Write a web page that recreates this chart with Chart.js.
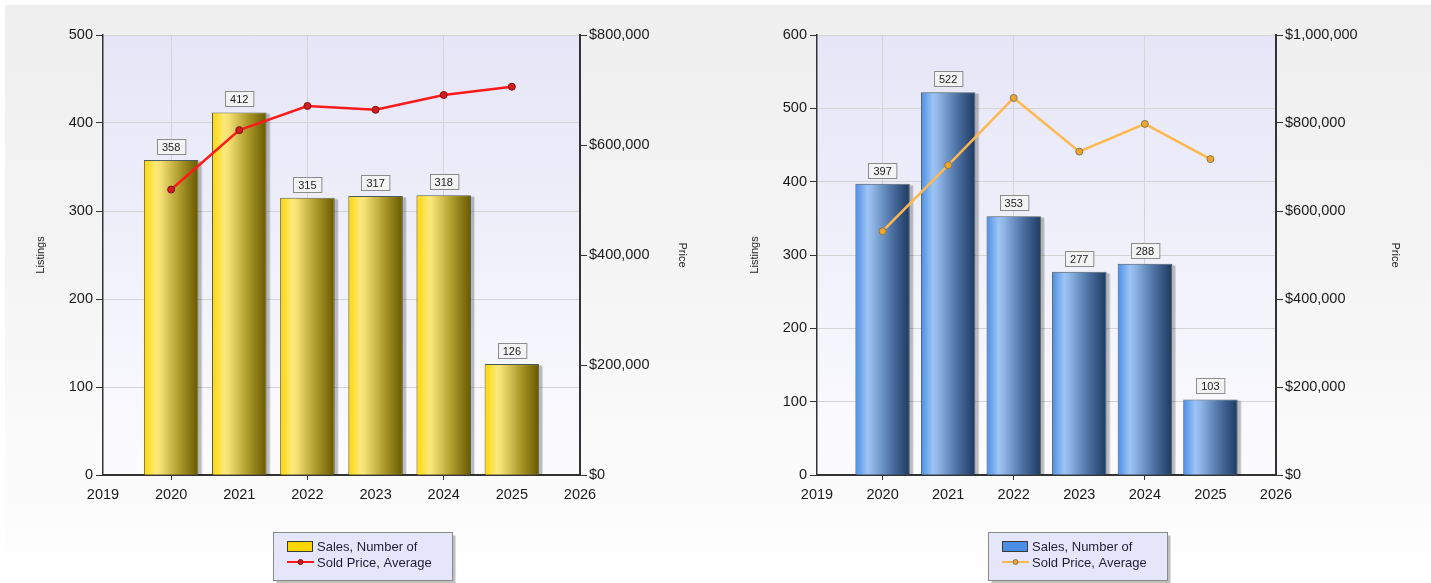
<!DOCTYPE html>
<html>
<head>
<meta charset="utf-8">
<script src="https://cdn.jsdelivr.net/npm/chart.js@4.4.1/dist/chart.umd.min.js"></script>
<style>
  html, body { margin: 0; padding: 0; }
  body {
    width: 1431px; height: 583px; overflow: hidden; position: relative;
    background: linear-gradient(to bottom, #ffffff 0px, #ffffff 5px, #efefef 5px, #f4f4f4 250px, #fdfdfd 540px, #ffffff 583px);
  }
  #edge { position: absolute; left: 0; top: 0; width: 5px; height: 583px; background: #ffffff; }
  canvas { position: absolute; top: 0; }
  #c1 { left: 0; }
  #c2 { left: 715px; }
</style>
</head>
<body>
<div id="edge"></div>
<canvas id="c1" width="715" height="583"></canvas>
<canvas id="c2" width="716" height="583"></canvas>
<script>
// ---- data ----
const years = [2020, 2021, 2022, 2023, 2024, 2025];
const xTickYears = [2019, 2020, 2021, 2022, 2023, 2024, 2025, 2026];
const gridYears = [2020, 2022, 2024];

const salesLeft = [358, 412, 315, 317, 318, 126];
const priceLeft = [519000, 627000, 671000, 664000, 691000, 706000];
const listingTicksLeft = [0, 100, 200, 300, 400, 500];
const priceTicksLeft = [0, 200000, 400000, 600000, 800000];

const salesRight = [397, 522, 353, 277, 288, 103];
const priceRight = [554000, 704000, 857000, 735000, 798000, 718000];
const listingTicksRight = [0, 100, 200, 300, 400, 500, 600];
const priceTicksRight = [0, 200000, 400000, 600000, 800000, 1000000];

const barLabel = 'Sales, Number of';
const lineLabel = 'Sold Price, Average';
const leftAxisTitle = 'Listings';
const rightAxisTitle = 'Price';

// ---- helpers ----
const FONT = "'Liberation Sans', Arial, sans-serif";
const fmtMoney = v => '$' + Math.round(v).toLocaleString('en-US');

const plotBg = {
  id: 'plotBg',
  beforeDraw(chart) {
    const { ctx, chartArea: a } = chart;
    if (!a) return;
    const g = ctx.createLinearGradient(0, a.top, 0, a.bottom);
    g.addColorStop(0, '#e5e5f7');
    g.addColorStop(1, '#fcfcff');
    ctx.save();
    ctx.fillStyle = g;
    ctx.fillRect(a.left, a.top, a.right - a.left, a.bottom - a.top);
    ctx.restore();
  }
};

// drop shadow behind, cylinder shading over, each bar laid out by the library
const barStyle = {
  id: 'barStyle',
  beforeDatasetDraw(chart, args) {
    if (chart.data.datasets[args.index].type !== 'bar') return;
    const ctx = chart.ctx;
    const meta = chart.getDatasetMeta(args.index);
    ctx.save();
    meta.data.forEach(el => {
      const left = el.x - el.width / 2;
      const h = el.base - el.y;
      ctx.fillStyle = 'rgba(0,0,0,0.10)';
      ctx.fillRect(left + 2, el.y + 2, el.width + 2, h - 2);
      ctx.fillStyle = 'rgba(0,0,0,0.16)';
      ctx.fillRect(left + 1, el.y + 1, el.width + 2, h - 1);
    });
    ctx.restore();
  },
  afterDatasetDraw(chart, args, opts) {
    const ds = chart.data.datasets[args.index];
    if (ds.type !== 'bar') return;
    const ctx = chart.ctx;
    const meta = chart.getDatasetMeta(args.index);
    const stops = opts.stops || [];
    ctx.save();
    meta.data.forEach(el => {
      const left = el.x - el.width / 2;
      const g = ctx.createLinearGradient(left, 0, left + el.width, 0);
      stops.forEach(s => g.addColorStop(s[0], s[1]));
      ctx.fillStyle = g;
      ctx.fillRect(left + 1, el.y + 1, el.width - 2, el.base - el.y - 1);
    });
    ctx.restore();
  }
};

const valueBoxes = {
  id: 'valueBoxes',
  afterDatasetsDraw(chart) {
    const ctx = chart.ctx;
    chart.data.datasets.forEach((ds, i) => {
      if (ds.type !== 'bar') return;
      const meta = chart.getDatasetMeta(i);
      meta.data.forEach((el, j) => {
        const txt = String(ds.data[j].y);
        ctx.save();
        ctx.font = '11px ' + FONT;
        const w = Math.max(28, ctx.measureText(txt).width + 10);
        const h = 15;
        const x = Math.round(el.x - w / 2) + 0.5;
        const y = Math.round(el.y - 6 - h) + 0.5;
        ctx.fillStyle = '#f3f3f3';
        ctx.fillRect(x, y, w, h);
        ctx.strokeStyle = '#8c8c8c';
        ctx.lineWidth = 1;
        ctx.strokeRect(x, y, w, h);
        ctx.fillStyle = '#222';
        ctx.textAlign = 'center';
        ctx.textBaseline = 'middle';
        ctx.fillText(txt, el.x, y + h / 2 + 0.5);
        ctx.restore();
      });
    });
  }
};

const boxLegend = {
  id: 'boxLegend',
  afterDraw(chart, args, opts) {
    const ctx = chart.ctx;
    const bx = 273.5, by = 532.5, bw = 179, bh = 48;
    ctx.save();
    ctx.fillStyle = 'rgba(0,0,0,0.25)';
    ctx.fillRect(bx + 3, by + 3, bw, bh);
    ctx.fillStyle = '#e6e6fa';
    ctx.fillRect(bx, by, bw, bh);
    ctx.strokeStyle = '#8a8a8a';
    ctx.lineWidth = 1;
    ctx.strokeRect(bx, by, bw, bh);
    const bar = chart.data.datasets[0];
    const line = chart.data.datasets[1];
    ctx.fillStyle = opts.swatch;
    ctx.fillRect(287, 541, 26, 11);
    ctx.strokeStyle = '#3a3a3a';
    ctx.strokeRect(287.5, 541.5, 25, 10);
    ctx.strokeStyle = line.borderColor;
    ctx.lineWidth = 2;
    ctx.beginPath();
    ctx.moveTo(287, 562);
    ctx.lineTo(314, 562);
    ctx.stroke();
    ctx.beginPath();
    ctx.arc(300.5, 562, 2.5, 0, Math.PI * 2);
    ctx.fillStyle = line.pointBackgroundColor;
    ctx.fill();
    ctx.lineWidth = 1;
    ctx.strokeStyle = line.pointBorderColor;
    ctx.stroke();
    ctx.fillStyle = '#1e1e3c';
    ctx.font = '13px ' + FONT;
    ctx.textAlign = 'left';
    ctx.textBaseline = 'middle';
    ctx.fillText(bar.label, 317, 547);
    ctx.fillText(line.label, 317, 563);
    ctx.restore();
  }
};

function makeChart(id, cfg) {
  const tickFont = { family: FONT, size: 14.5 };
  const titleFont = { family: FONT, size: 11 };
  return new Chart(document.getElementById(id), {
    data: {
      datasets: [
        {
          type: 'bar',
          label: barLabel,
          data: years.map((y, i) => ({ x: y, y: cfg.sales[i] })),
          backgroundColor: cfg.barFill,
          borderColor: '#4c5a5a',
          borderWidth: 1,
          inflateAmount: 0,
          barPercentage: cfg.barPct,
          categoryPercentage: 1,
          yAxisID: 'y',
          order: 2
        },
        {
          type: 'line',
          label: lineLabel,
          data: years.map((y, i) => ({ x: y, y: cfg.price[i] })),
          borderColor: cfg.lineColor,
          borderWidth: cfg.lineWidth,
          pointRadius: 3.5,
          pointBackgroundColor: cfg.pointFill,
          pointBorderColor: cfg.pointBorder,
          pointBorderWidth: 1,
          tension: 0,
          yAxisID: 'y2',
          order: 1
        }
      ]
    },
    options: {
      responsive: false,
      animation: false,
      events: [],
      layout: { padding: { top: 35, left: cfg.padLeft, right: cfg.padRight, bottom: 78 } },
      plugins: {
        legend: { display: false },
        tooltip: { enabled: false },
        boxLegend: { swatch: cfg.swatch },
        barStyle: { stops: cfg.stops }
      },
      scales: {
        x: {
          type: 'linear',
          offset: false,
          min: xTickYears[0],
          max: xTickYears[xTickYears.length - 1],
          afterBuildTicks: (s) => { s.ticks = xTickYears.map(v => ({ value: v })); },
          afterFit: (s) => { s.height = 30; },
          ticks: { font: tickFont, color: '#1a1a1a', padding: 6, maxRotation: 0, autoSkip: false, callback: v => String(v) },
          grid: {
            offset: false,
            color: c => gridYears.includes(c.tick && c.tick.value) ? '#d4d4d4' : 'rgba(0,0,0,0)',
            tickColor: c => gridYears.includes(c.tick && c.tick.value) ? '#333' : 'rgba(0,0,0,0)',
            tickLength: 5,
            lineWidth: 1
          },
          border: { color: '#333', width: 2 }
        },
        y: {
          position: 'left',
          min: 0,
          max: cfg.listingTicks[cfg.listingTicks.length - 1],
          afterBuildTicks: (s) => { s.ticks = cfg.listingTicks.map(v => ({ value: v })); },
          afterFit: (s) => { s.width = cfg.yWidth; },
          ticks: { font: tickFont, color: '#1a1a1a', padding: 3 },
          grid: { color: '#d4d4d4', tickColor: '#333', tickLength: 7, lineWidth: 1 },
          border: { color: '#333', width: 1.5 },
          title: { display: true, text: leftAxisTitle, font: titleFont, color: '#222' }
        },
        y2: {
          position: 'right',
          min: 0,
          max: cfg.priceTicks[cfg.priceTicks.length - 1],
          afterBuildTicks: (s) => { s.ticks = cfg.priceTicks.map(v => ({ value: v })); },
          afterFit: (s) => { s.width = cfg.y2Width; },
          ticks: { font: tickFont, color: '#1a1a1a', padding: 2, callback: v => fmtMoney(v) },
          grid: { drawOnChartArea: false, tickColor: '#333', tickLength: 7 },
          border: { color: '#333', width: 2 },
          title: { display: true, text: rightAxisTitle, font: titleFont, color: '#222' }
        }
      }
    },
    plugins: [plotBg, barStyle, valueBoxes, boxLegend]
  });
}

makeChart('c1', {
  sales: salesLeft, price: priceLeft,
  listingTicks: listingTicksLeft, priceTicks: priceTicksLeft,
  barPct: 0.8,
  barFill: '#c9b23a',
  stops: [[0, '#ffd700'], [0.22, '#fde97a'], [0.3, '#f6e274'], [0.65, '#ad9b2c'], [1, '#675800']],
  swatch: '#ffd700',
  lineColor: '#ff1a1a', lineWidth: 2.5, pointFill: '#d41c1c', pointBorder: '#7a1010',
  padLeft: 30, padRight: 22, yWidth: 73, y2Width: 113
});

makeChart('c2', {
  sales: salesRight, price: priceRight,
  listingTicks: listingTicksRight, priceTicks: priceTicksRight,
  barPct: 0.83,
  barFill: '#5f88c0',
  stops: [[0, '#4a8ee6'], [0.22, '#9cc4f4'], [0.3, '#92b9ea'], [0.65, '#4f74a6'], [1, '#1d3960']],
  swatch: '#4a8ee6',
  lineColor: '#ffb84d', lineWidth: 2.5, pointFill: '#f2a52a', pointBorder: '#7d7d60',
  padLeft: 29, padRight: 25, yWidth: 73, y2Width: 130
});
</script>
</body>
</html>
